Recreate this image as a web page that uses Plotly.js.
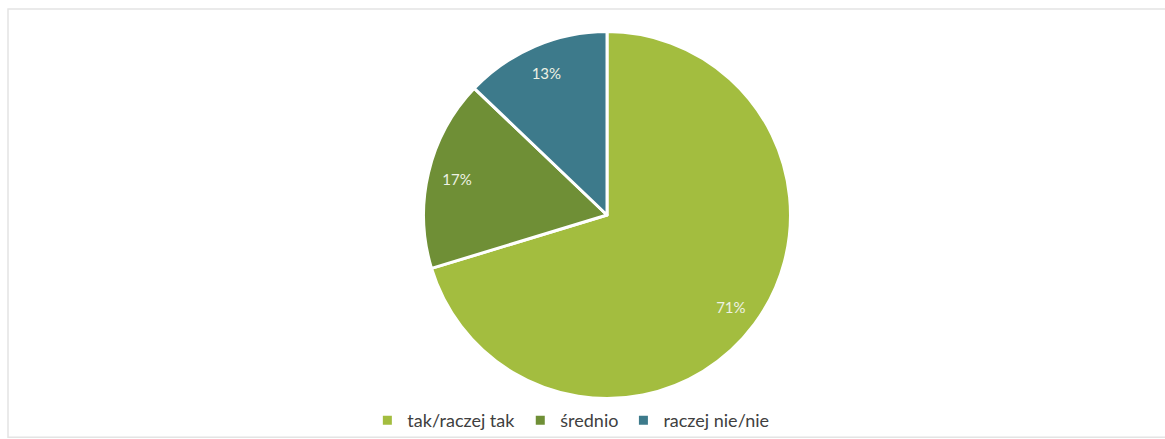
<!DOCTYPE html>
<html>
<head>
<meta charset="utf-8">
<script src="https://cdn.plot.ly/plotly-3.0.1.min.js"></script>
<style>html,body{margin:0;padding:0;background:#fff;}#chart{width:1165px;height:439px;}</style>
</head>
<body>
<div id="chart"></div>
<script>
const categories = ["tak/raczej tak", "średnio", "raczej nie/nie"];
const values = [71, 17, 13];
const colors = ["#a3bd3f", "#6f8f36", "#3d7a8b"];

const pieDomain = {x: [0.3614, 0.6807], y: [0.0798, 0.9272]};

const trace = {
  type: "pie",
  labels: categories,
  values: values,
  sort: false,
  direction: "clockwise",
  rotation: 0,
  marker: {colors: colors, line: {color: "#ffffff", width: 3}},
  textinfo: "none",
  hoverinfo: "label+value",
  domain: pieDomain
};

// transparent ring on top, only used to place the percentage labels further out
const labelTrace = {
  type: "pie",
  labels: categories,
  values: values,
  sort: false,
  direction: "clockwise",
  rotation: 0,
  hole: 0.68,
  showlegend: false,
  marker: {colors: ["rgba(0,0,0,0)", "rgba(0,0,0,0)", "rgba(0,0,0,0)"], line: {width: 0}},
  texttemplate: "%{value}%",
  textposition: "inside",
  insidetextorientation: "horizontal",
  textfont: {family: "Lato, 'Open Sans', sans-serif", size: 15, color: "#eef2e4"},
  hoverinfo: "skip",
  domain: pieDomain
};

const layout = {
  width: 1165,
  height: 439,
  margin: {l: 0, r: 0, t: 0, b: 0},
  paper_bgcolor: "#ffffff",
  showlegend: true,
  legend: {
    orientation: "h",
    x: 0.49, xanchor: "center",
    y: 0.028, yanchor: "middle",
    bgcolor: "rgba(0,0,0,0)",
    font: {family: "Lato, 'Open Sans', sans-serif", size: 18, color: "#404040"},
    itemwidth: 30,
    traceorder: "normal"
  },
  shapes: [{
    type: "rect", xref: "paper", yref: "paper",
    x0: 8/1165, x1: 1.01, y0: -0.01, y1: 1 - 9/439,
    line: {color: "#e4e4e4", width: 1.5}
  }]
};

Plotly.newPlot("chart", [trace, labelTrace], layout, {displayModeBar: false, staticPlot: true});
</script>
</body>
</html>
